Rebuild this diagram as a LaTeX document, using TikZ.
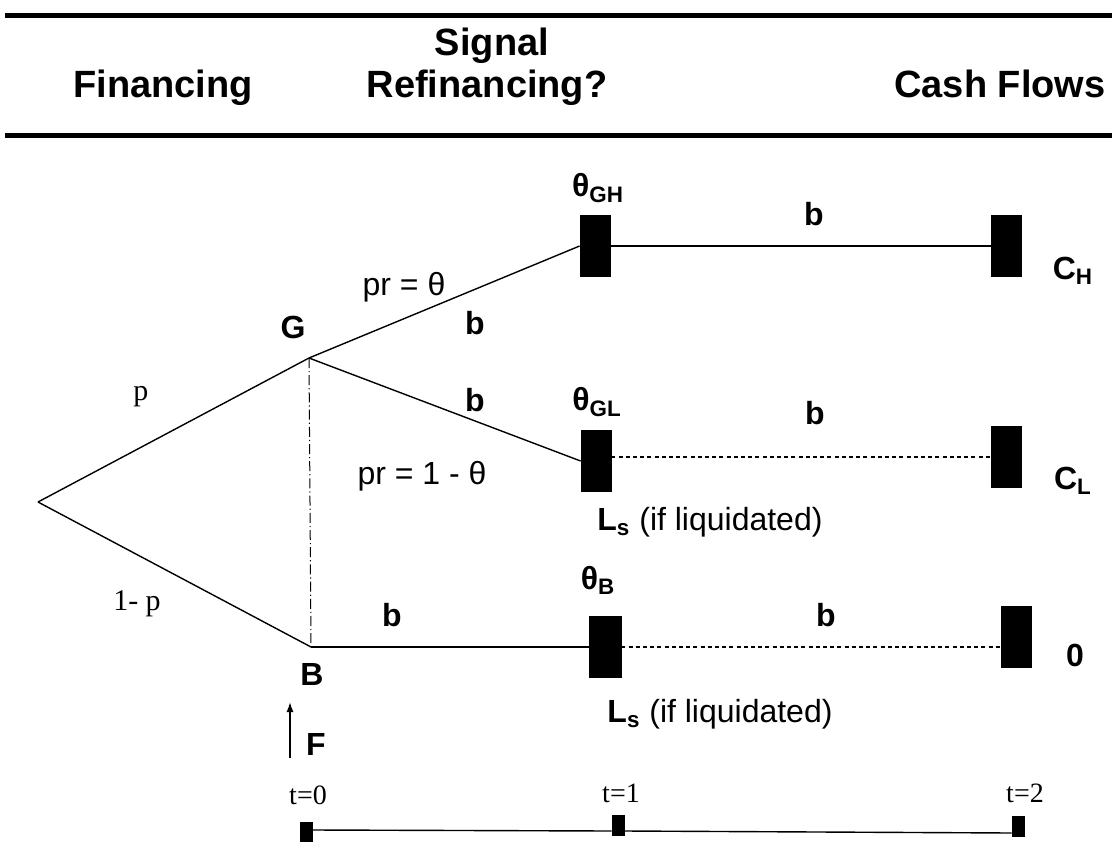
\documentclass[tikz,border=0pt]{standalone}
\usepackage{fontspec}
\setmainfont{Liberation Sans}
\newfontfamily\serifface{Liberation Serif}
\usetikzlibrary{arrows.meta}

\tikzset{
  stagebox/.style={draw, fill=black, minimum width=15pt, minimum height=30.5pt, inner sep=0pt},
  tickbox/.style={draw, fill=black, minimum width=6pt, minimum height=10pt, inner sep=0pt},
  head/.style={font=\bfseries\fontsize{19}{22}\selectfont, inner sep=0pt, anchor=base},
  lab/.style={font=\fontsize{16}{19}\selectfont, inner sep=0pt},
  blab/.style={font=\bfseries\fontsize{16}{19}\selectfont, inner sep=0pt},
  prob/.style={font=\serifface\fontsize{15}{18}\selectfont, inner sep=0pt},
  tlab/.style={font=\serifface\fontsize{14}{17}\selectfont, inner sep=0pt},
  branch/.style={line width=0.7pt},
  later/.style={line width=0.6pt, dash pattern=on 2pt off 1.6pt},
}

\begin{document}
\begin{tikzpicture}[x=0.5pt, y=-0.5pt, >={Latex[length=5pt,width=3.5pt]}]
\useasboundingbox (0,0) rectangle (1116,842);

% header
\draw[line width=2.5pt] (5,15) -- (1112,15);
\draw[line width=2.5pt] (5,135) -- (1112,135);
\node[head] (fin) at (163,97) {Financing};
\node[head] (sig) at (492,55) {Signal};
\node[head] (refin) at (487,97) {Refinancing?};
\node[head] (cash) at (1000,97) {Cash Flows};

% tree points
\coordinate (root) at (38,502);
\coordinate (G) at (309,358);
\coordinate (B) at (311,647);

% boxes
\node[stagebox] (GH) at (595,246) {};
\node[stagebox] (GL) at (596,461) {};
\node[stagebox, minimum width=16pt] (TB) at (605,647) {};
\node[stagebox] (CH) at (1006,246) {};
\node[stagebox] (CL) at (1006,457) {};
\node[stagebox] (Z) at (1016,637) {};

% branches
\draw[branch] (root) -- (G);
\draw[branch] (root) -- (B);
\draw[line width=0.5pt, dash pattern=on 5pt off 1.5pt on 0.6pt off 1.5pt] (G) -- (B);
\draw[branch] (G) -- (GH.west);
\draw[branch] (G) -- (GL.west);
\draw[branch] (B) -- (TB.west);
\draw[branch] (GH.east) -- (CH.west);
\draw[later] (CL.west -| GL.east) -- (CL.west);
\draw[later] (TB.east) -- (TB.east -| Z.west);

% labels
\node[blab] (Glab) at (293,327) {G};
\node[blab] (Blab) at (312,674) {B};
\node[prob] (p) at (141,397) {p};
\node[prob] (q) at (137,604) {1- p};
\node[lab] (prt) at (404,287) {pr = θ};
\node[lab] (prl) at (422,476) {pr = 1 - θ};
\node[blab] (b1) at (475,323) {b};
\node[blab] (b2) at (475,400) {b};
\node[blab] (b3) at (814,214) {b};
\node[blab] (b4) at (815,413) {b};
\node[blab] (b5) at (392,615) {b};
\node[blab] (b6) at (826,615) {b};
\node[blab] (tGH) at (598,188) {θ\textsubscript{GH}};
\node[blab] (tGL) at (597,402) {θ\textsubscript{GL}};
\node[blab] (tB) at (598,580) {θ\textsubscript{B}};
\node[blab] (cH) at (1073,271) {C\textsubscript{H}};
\node[blab] (cL) at (1073,481) {C\textsubscript{L}};
\node[blab] (zero) at (1075,655) {0};
\node[lab] (liq1) at (710,522) {\textbf{L\textsubscript{s}} (if liquidated)};
\node[lab] (liq2) at (720,714) {\textbf{L\textsubscript{s}} (if liquidated)};

% financing
\coordinate (F0) at (290,758);
\coordinate (F1) at (290,702);
\draw[->, line width=0.7pt] (F0) -- (F1);
\node[blab] (F) at (316,744) {F};

% time line
\node[tlab] (t0) at (308,795) {t=0};
\node[tlab] (t1) at (621,793) {t=1};
\node[tlab] (t2) at (1025,793) {t=2};
\node[tickbox] (T0) at (306,832) {};
\node[tickbox] (T1) at (618,825) {};
\node[tickbox] (T2) at (1018,826) {};
\draw[branch] ([yshift=1pt]T0.east) -- ([yshift=-3pt]T1.west)
  ([yshift=-3pt]T1.east) -- ([yshift=-3.5pt]T2.west);

\end{tikzpicture}
\end{document}
